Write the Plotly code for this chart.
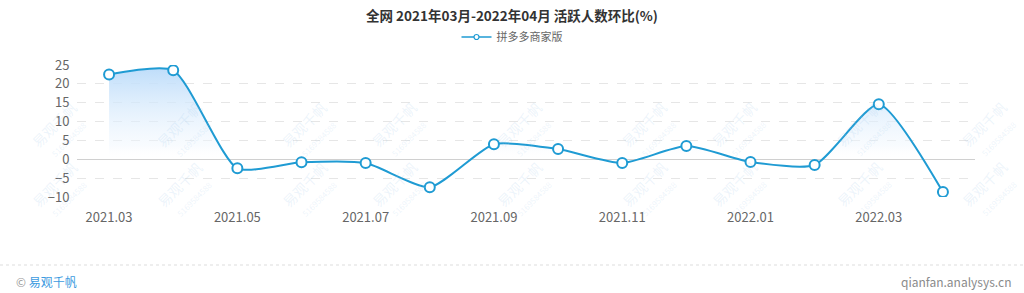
import plotly.graph_objects as go

months = ["2021.03", "2021.04", "2021.05", "2021.06", "2021.07", "2021.08", "2021.09",
          "2021.10", "2021.11", "2021.12", "2022.01", "2022.02", "2022.03", "2022.04"]
values = [22.5, 23.6, -2.4, -0.8, -1.0, -7.4, 4.0, 2.7, -1.0, 3.5, -0.7, -1.5, 14.6, -8.7]
x_labels = months[::2]
series_name = "拼多多商家版"
title_text = "全网 2021年03月-2022年04月 活跃人数环比(%)"

W, H = 1024, 293
ML, MR, MT, MB = 77, 49, 65, 96
PW, PH = W - ML - MR, H - MT - MB

def px_x(p):
    return (p - ML) / PW

def px_y(p):
    return (H - MB - p) / PH

FONT = "Noto Sans CJK SC, Microsoft YaHei, sans-serif"
LINE = "#1f9bd3"

fig = go.Figure()
fig.add_trace(go.Scatter(
    x=months, y=values, name=series_name, showlegend=False,
    mode="lines+markers",
    line=dict(color=LINE, width=2, shape="spline", smoothing=0.6),
    marker=dict(size=10, color="white", line=dict(color=LINE, width=2)),
    fill="tozeroy",
    fillgradient=dict(type="vertical", start=0, stop=24,
                      colorscale=[[0, "rgba(255,255,255,0)"], [0.15, "rgba(240,247,254,0.45)"],
                                  [1, "rgba(188,220,250,0.95)"]]),
))
# legend-only entry with a small icon
fig.add_trace(go.Scatter(
    x=[None], y=[None], name=series_name, mode="lines+markers",
    line=dict(color=LINE, width=1.5),
    marker=dict(size=5, color="white", line=dict(color=LINE, width=1.2)),
))

annotations = []
for row_y in (95, 225):
    for k in range(9):
        annotations.append(dict(
            x=px_x(25 + 125 * k), y=px_y(row_y), xref="paper", yref="paper",
            text="易观千帆<br><span style='font-size:8px'>5169584588</span>",
            showarrow=False, textangle=-45,
            font=dict(family=FONT, size=14, color="rgba(160,200,235,0.2)"),
        ))
annotations.append(dict(
    x=px_x(14), y=px_y(281), xref="paper", yref="paper", xanchor="left", yanchor="middle",
    text="<span style='color:#9a9a9a'>©</span> <span style='color:#3d9be0'>易观千帆</span>",
    showarrow=False, font=dict(family=FONT, size=12),
))
annotations.append(dict(
    x=px_x(1013), y=px_y(281), xref="paper", yref="paper", xanchor="right", yanchor="middle",
    text="qianfan.analysys.cn", showarrow=False,
    font=dict(family=FONT, size=12, color="#8a8a8a"),
))

fig.update_layout(
    width=W, height=H,
    margin=dict(l=ML, r=MR, t=MT, b=MB),
    paper_bgcolor="white", plot_bgcolor="white",
    title=dict(text=title_text, x=0.5, xanchor="center", y=1 - 16 / H, yanchor="middle",
               font=dict(family=FONT, size=13.5, color="#333333", weight="bold")),
    showlegend=True,
    legend=dict(orientation="h", x=px_x(512), xanchor="center", y=px_y(37), yanchor="middle",
                font=dict(family=FONT, size=11, color="#666666"), bgcolor="rgba(0,0,0,0)",
                itemwidth=30, tracegroupgap=0),
    xaxis=dict(type="category", range=[-0.5, len(months) - 0.5],
               tickvals=x_labels, ticktext=x_labels,
               showgrid=False, showline=False, zeroline=False,
               ticks="outside", ticklen=8, tickcolor="rgba(0,0,0,0)",
               tickfont=dict(family=FONT, size=13, color="#666666")),
    yaxis=dict(range=[-10, 25], dtick=5, tick0=0,
               showgrid=True, gridcolor="#e6e6e6", griddash="dash", gridwidth=1,
               zeroline=True, zerolinecolor="#d0d0d0", zerolinewidth=1,
               showline=False,
               ticks="outside", ticklen=4, tickcolor="rgba(0,0,0,0)",
               tickfont=dict(family=FONT, size=13, color="#666666")),
    annotations=annotations,
    shapes=[dict(type="line", xref="paper", yref="paper",
                 x0=px_x(0), x1=px_x(W), y0=px_y(265), y1=px_y(265),
                 line=dict(color="#dddddd", width=1, dash="dot"))],
)

fig.write_html("out.html")
